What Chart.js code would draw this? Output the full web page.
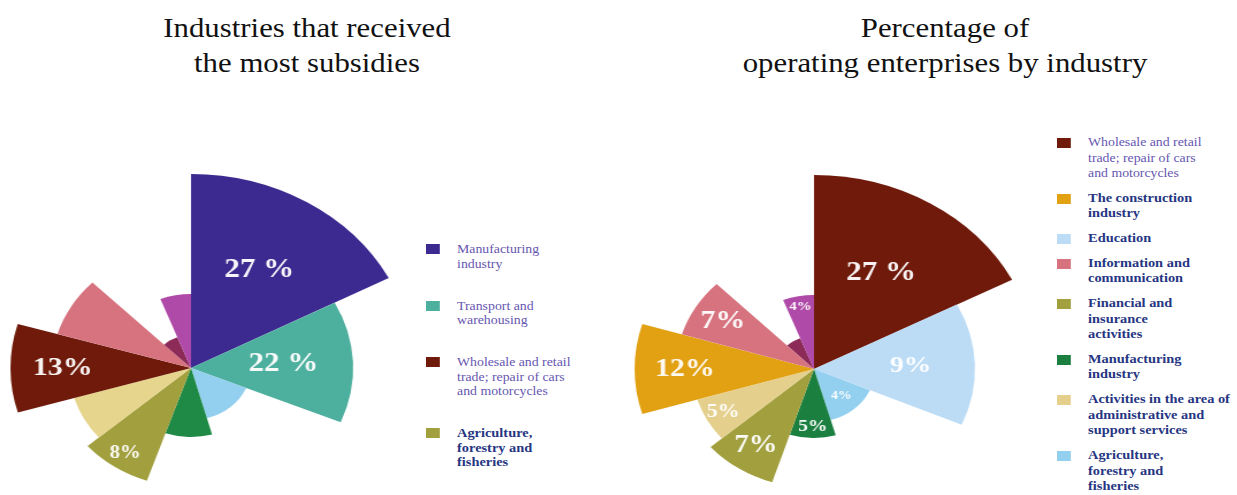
<!DOCTYPE html>
<html>
<head>
<meta charset="utf-8">
<script src="https://cdn.jsdelivr.net/npm/chart.js@4/dist/chart.umd.min.js"></script>
<style>
  html, body { margin: 0; padding: 0; width: 1237px; height: 495px; overflow: hidden; background: #fff; }
  .title { position: absolute; width: 500px; font-family: "Liberation Serif", serif; font-size: 28px;
           line-height: 35px; text-align: center; color: #111; transform: scaleX(1.1); }
  .rose { position: absolute; width: 400px; height: 400px; transform: scaleX(1.15); transform-origin: 200px 200px; }
  .legend { position: absolute; font-family: "Liberation Serif", serif; transform: scaleX(1.15); transform-origin: 0 0; }
  .item { position: relative; padding-left: 27px; }
  .item .sw { position: absolute; left: 0; width: 12px; height: 10px; }
  .item.plain { color: #6656b0; font-size: 12px; }
  .item.bold { color: #263682; font-size: 12.5px; font-weight: bold; }
</style>
</head>
<body>
<div class="title" style="left:57px; top:10px;">Industries that received<br>the most subsidies</div>
<div class="title" style="left:695px; top:10px;">Percentage of<br>operating enterprises by industry</div>

<div class="rose" style="left:-9px; top:168px;"><canvas id="left"></canvas></div>
<div class="rose" style="left:614px; top:169px;"><canvas id="right"></canvas></div>

<div class="legend" id="leftLegend" style="left:426px; top:242px;"></div>
<div class="legend" id="rightLegend" style="left:1057px; top:135px;"></div>

<script>
// ---- left chart: industries that received the most subsidies ----
const leftCategories = ['Manufacturing industry', 'Transport and warehousing', 'Other 1', 'Other 2',
  'Agriculture, forestry and fisheries', 'Other 3', 'Wholesale and retail trade; repair of cars and motorcycles',
  'Other 4', 'Other 5', 'Other 6'];
const leftValues = [97, 70.5, 26, 34.5, 59.5, 53, 78.5, 60.5, 16.5, 37];      // wedge radius, 0-100
const leftAngles = [62.4, 50.2, 52, 34.2, 30.3, 24.4, 32.8, 28.6, 24, 21.1];  // wedge width, degrees
const leftColors = ['#3c2a90', '#4daf9e', '#93d0ef', '#1e8a45', '#a2a03e', '#e6d58c', '#6f1a0b', '#d6737f', '#8c2a58', '#b04aa8'];
const leftLabels = ['27 %', '22 %', '', '', '8%', '', '13%', '', '', ''];
const leftLabelSize = [27, 27, 0, 0, 18, 0, 26, 0, 0, 0];
const leftLabelPos = [0.59, 0.57, 0, 0, 0.86, 0, 0.71, 0, 0, 0];

// ---- right chart: percentage of operating enterprises by industry ----
const rightCategories = ['Wholesale and retail trade; repair of cars and motorcycles', 'Education',
  'Agriculture, forestry and fisheries', 'Manufacturing industry', 'Financial and insurance activities',
  'Activities in the area of administrative and support services', 'The construction industry',
  'Information and communication', 'Other 1', 'Other 2'];
const rightValues = [97, 70, 26.5, 34.5, 59.5, 53, 78, 60, 16.5, 37];
const rightAngles = [62.6, 50.9, 50.6, 33.7, 31.3, 24.1, 33.6, 28.3, 23.6, 21.3];
const rightColors = ['#6f1a0b', '#bcdcf6', '#93d0ef', '#1b7f40', '#a2a03e', '#e4d08c', '#e2a013', '#d6737f', '#8c2a58', '#b04aa8'];
const rightLabels = ['27 %', '9%', '4%', '5%', '7%', '5%', '12%', '7%', '', '4%'];
const rightLabelSize = [27, 24, 12, 17, 25, 19, 26, 26, 0, 13];
const rightLabelPos = [0.58, 0.6, 0.68, 0.83, 0.77, 0.85, 0.72, 0.77, 0, 0.86];

// legend entries: index into categories, text lines, bold?
const leftLegendItems = [
  [0, ['Manufacturing', 'industry'], false],
  [1, ['Transport and', 'warehousing'], false],
  [6, ['Wholesale and retail', 'trade; repair of cars', 'and motorcycles'], false],
  [4, ['Agriculture,', 'forestry and', 'fisheries'], true]
];
const rightLegendItems = [
  [0, ['Wholesale and retail', 'trade; repair of cars', 'and motorcycles'], false],
  [6, ['The construction', 'industry'], true],
  [1, ['Education'], true],
  [7, ['Information and', 'communication'], true],
  [4, ['Financial and', 'insurance', 'activities'], true],
  [3, ['Manufacturing', 'industry'], true],
  [5, ['Activities in the area of', 'administrative and', 'support services'], true],
  [2, ['Agriculture,', 'forestry and', 'fisheries'], true]
];

function sliceLabelPlugin(texts, sizes, pos) {
  return {
    id: 'sliceLabels',
    afterDatasetsDraw(chart) {
      const ctx = chart.ctx;
      ctx.save();
      ctx.textAlign = 'center';
      ctx.textBaseline = 'middle';
      ctx.fillStyle = 'rgba(255,255,255,0.95)';
      chart.getDatasetMeta(0).data.forEach((arc, i) => {
        if (!texts[i]) return;
        const p = arc.getProps(['x', 'y', 'startAngle', 'endAngle', 'outerRadius'], true);
        const mid = (p.startAngle + p.endAngle) / 2;
        const r = p.outerRadius * pos[i];
        ctx.font = 'bold ' + sizes[i] + 'px "Liberation Serif"';
        ctx.fillText(texts[i], p.x + Math.cos(mid) * r, p.y + Math.sin(mid) * r);
      });
      ctx.restore();
    }
  };
}

function makeRose(id, cats, values, angles, colors, texts, sizes, pos) {
  return new Chart(document.getElementById(id), {
    type: 'polarArea',
    data: {
      labels: cats,
      datasets: [{
        data: values,
        angle: angles,
        backgroundColor: colors,
        borderWidth: 0
      }]
    },
    options: {
      responsive: true,
      maintainAspectRatio: false,
      animation: false,
      layout: { padding: 0 },
      scales: {
        r: { display: false, min: 0, max: 100, startAngle: 0 }
      },
      plugins: { legend: { display: false }, tooltip: { enabled: false } }
    },
    plugins: [sliceLabelPlugin(texts, sizes, pos)]
  });
}

function buildLegend(el, items, colors, lineHeight, gap) {
  items.forEach(([idx, lines, bold]) => {
    const div = document.createElement('div');
    div.className = 'item ' + (bold ? 'bold' : 'plain');
    div.style.lineHeight = lineHeight + 'px';
    div.style.marginBottom = gap + 'px';
    const sw = document.createElement('span');
    sw.className = 'sw';
    sw.style.background = colors[idx];
    sw.style.top = ((lineHeight - 10) / 2) + 'px';
    div.appendChild(sw);
    div.innerHTML += lines.join('<br>');
    el.appendChild(div);
  });
}

makeRose('left', leftCategories, leftValues, leftAngles, leftColors, leftLabels, leftLabelSize, leftLabelPos);
makeRose('right', rightCategories, rightValues, rightAngles, rightColors, rightLabels, rightLabelSize, rightLabelPos);
buildLegend(document.getElementById('leftLegend'), leftLegendItems, leftColors, 14.5, 27.5);
buildLegend(document.getElementById('rightLegend'), rightLegendItems, rightColors, 15.5, 9.3);
</script>
</body>
</html>
